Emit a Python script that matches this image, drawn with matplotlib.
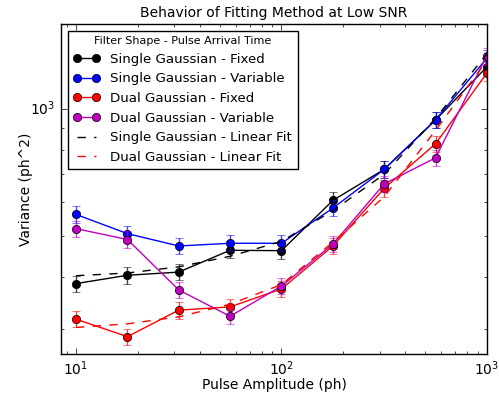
import numpy as np
import matplotlib
matplotlib.use("Agg")
import matplotlib.pyplot as plt
from matplotlib.ticker import NullFormatter

plt.style.use('classic')
plt.rcParams['figure.facecolor'] = 'white'
plt.rcParams['savefig.facecolor'] = 'white'

# pulse amplitudes (ph)
amplitude = [10, 17.8, 31.6, 56.2, 100, 178, 316, 562, 1000]

# measured variances (ph^2) and their error bars
sg_fixed = [385, 403, 410, 462, 461, 607, 719, 942, 1260]
sg_fixed_err = [17, 18, 18, 20, 20, 27, 32, 41, 55]
sg_var = [562, 506, 473, 480, 480, 582, 719, 942, 1322]
sg_var_err = [25, 22, 21, 21, 21, 26, 32, 41, 58]
dg_fixed = [317, 288, 333, 339, 374, 473, 648, 827, 1218]
dg_fixed_err = [14, 13, 15, 15, 16, 21, 29, 36, 54]
dg_var = [520, 490, 372, 322, 380, 478, 664, 766, 1340]
dg_var_err = [23, 22, 16, 14, 17, 21, 29, 34, 59]

# linear fits
sg_fit = [402, 408, 422, 447, 485, 574, 700, 950, 1355]
dg_fit = [303, 309, 321, 344, 383, 483, 619, 890, 1305]

fig = plt.figure(figsize=(4.99, 3.97), dpi=100)
ax = fig.add_axes([0.1222, 0.1083, 0.8537, 0.8312])

series = [
    (sg_fixed, sg_fixed_err, 'k', 'Single Gaussian - Fixed'),
    (sg_var, sg_var_err, 'b', 'Single Gaussian - Variable'),
    (dg_fixed, dg_fixed_err, 'r', 'Dual Gaussian - Fixed'),
    (dg_var, dg_var_err, 'm', 'Dual Gaussian - Variable'),
]
handles = []
for vals, err, c, lab in series:
    ax.errorbar(amplitude, vals, yerr=err, fmt='none', ecolor=c,
                elinewidth=1, capsize=3, alpha=0.75)
    h, = ax.plot(amplitude, vals, 'o-', color=c, markersize=6, linewidth=1,
                 markeredgecolor='k', markeredgewidth=0.5, label=lab)
    handles.append(h)

h, = ax.plot(amplitude, sg_fit, 'k--', linewidth=1, label='Single Gaussian - Linear Fit')
handles.append(h)
h, = ax.plot(amplitude, dg_fit, 'r--', linewidth=1, label='Dual Gaussian - Linear Fit')
handles.append(h)

ax.set_xscale('log')
ax.set_yscale('log')
ax.set_xlim(8.45, 1000)
ax.set_ylim(262, 1592)
ax.yaxis.set_minor_formatter(NullFormatter())
ax.tick_params(labelsize=10)

ax.set_title('Behavior of Fitting Method at Low SNR', fontsize=10)
ax.set_xlabel('Pulse Amplitude (ph)', fontsize=10, labelpad=0)
ax.set_ylabel('Variance (ph^2)', fontsize=10, labelpad=-2)

leg = ax.legend(handles=handles, loc='upper left', fontsize=9.6, numpoints=2,
                title='Filter Shape - Pulse Arrival Time', handlelength=2.0,
                handletextpad=0.8)
leg.get_title().set_fontsize(8)

fig.savefig('out.png', dpi=100)
